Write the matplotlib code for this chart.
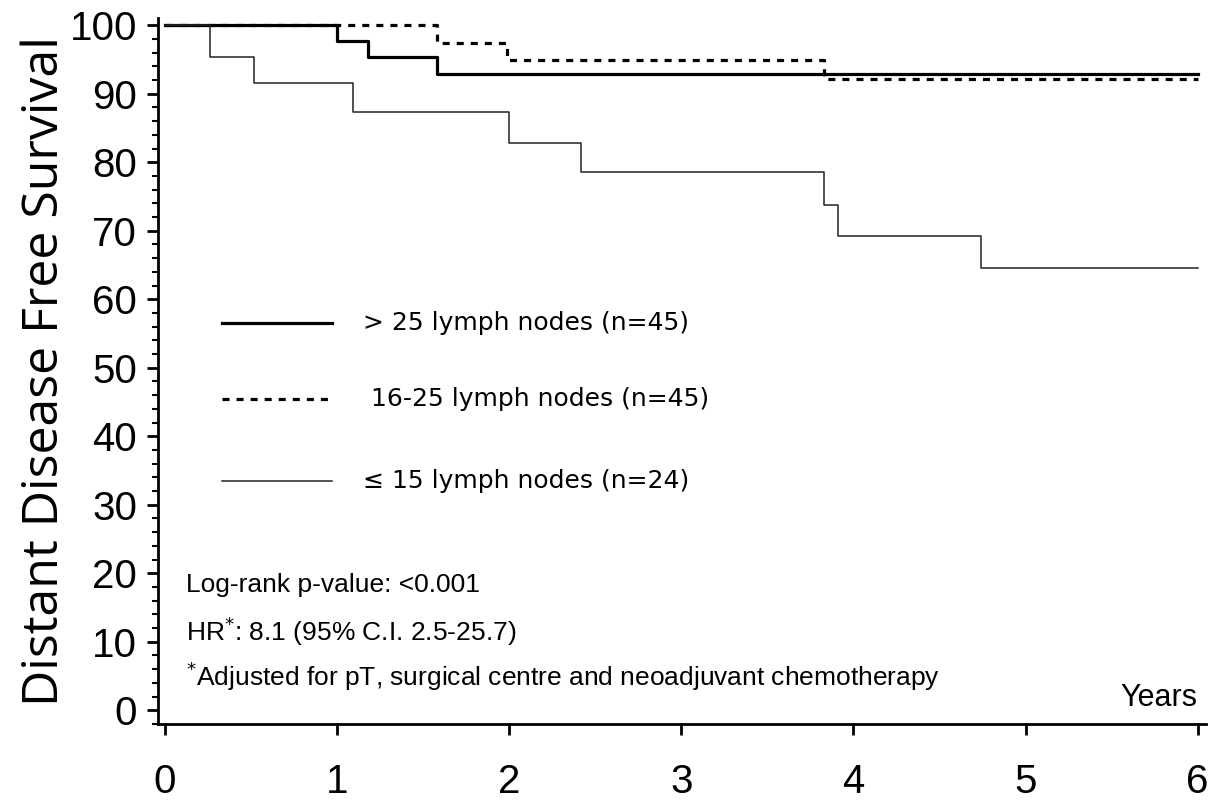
import matplotlib.pyplot as plt
from matplotlib.ticker import MultipleLocator

# Kaplan-Meier steps (years, % free of distant disease)
t_gt25 = [0, 1.0, 1.18, 1.58, 6.0]
s_gt25 = [100, 97.7, 95.4, 92.9, 92.9]

t_16_25 = [0, 1.58, 1.99, 3.83, 6.0]
s_16_25 = [100, 97.4, 94.9, 92.1, 92.1]

t_le15 = [0, 0.26, 0.52, 1.09, 2.0, 2.42, 3.83, 3.91, 4.74, 6.0]
s_le15 = [100, 95.4, 91.6, 87.3, 82.8, 78.6, 73.8, 69.3, 64.6, 64.6]

labels = ["> 25 lymph nodes (n=45)", " 16-25 lymph nodes (n=45)", "\u2264 15 lymph nodes (n=24)"]
x_ticks = [0, 1, 2, 3, 4, 5, 6]
y_ticks = [0, 10, 20, 30, 40, 50, 60, 70, 80, 90, 100]

notes = ["Log-rank p-value: <0.001",
         r"HR$^{*}$: 8.1 (95% C.I. 2.5-25.7)",
         r"$^{*}$Adjusted for pT, surgical centre and neoadjuvant chemotherapy"]

fig = plt.figure(figsize=(12.16, 8.0), dpi=100)
ax = fig.add_axes([0.130, 0.095, 0.862, 0.882])

styles = [dict(color="black", lw=2.3, ls="-"),
          dict(color="black", lw=2.3, ls=(0, (2.2, 2.2))),
          dict(color="#222222", lw=1.1, ls="-")]

for t, s, st in zip([t_gt25, t_16_25, t_le15], [s_gt25, s_16_25, s_le15], styles):
    ax.step(t, s, where="post", **st)

# hand drawn legend, as in the original
leg_y = [56.5, 45.5, 33.4]
for yy, lab, st in zip(leg_y, labels, styles):
    ax.plot([0.33, 0.97], [yy, yy], **st)
    ax.text(1.15, yy, lab, fontsize=18, family="DejaVu Sans", va="center", ha="left")

for yy, txt in zip([18.3, 11.6, 4.9], notes):
    ax.text(0.12, yy, txt, fontsize=19, family="Liberation Sans", va="center")

ax.text(6.0, 0.7, "Years", fontsize=22, family="Liberation Sans", ha="right", va="baseline")

ax.set_xlim(-0.04, 6.05)
ax.set_ylim(-2, 101)
ax.set_xticks(x_ticks)
ax.set_yticks(y_ticks)
ax.yaxis.set_minor_locator(MultipleLocator(2))
ax.tick_params(axis="both", which="major", direction="out", length=8, width=2,
               labelsize=29)
ax.tick_params(axis="y", which="minor", direction="out", length=4, width=1.5)
for lab in ax.get_xticklabels() + ax.get_yticklabels():
    lab.set_family("Liberation Sans")
ax.tick_params(axis="x", pad=20)
ax.tick_params(axis="y", pad=7)

for side in ["top", "right"]:
    ax.spines[side].set_visible(False)
for side in ["left", "bottom"]:
    ax.spines[side].set_linewidth(2)

ax.set_ylabel("Distant Disease Free Survival", fontsize=36, family="Open Sans", labelpad=0)

fig.savefig("out.png", dpi=100)
